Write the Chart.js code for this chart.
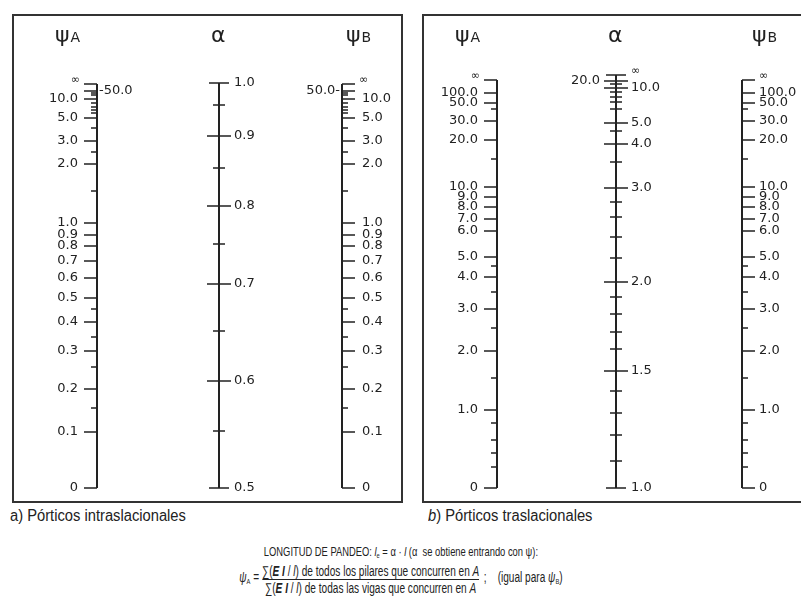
<!DOCTYPE html>
<html lang="es">
<head>
<meta charset="UTF-8">
<title>Longitud de pandeo - nomogramas</title>
<script src="https://cdn.jsdelivr.net/npm/chart.js"></script>
<style>
  body { margin: 0; width: 801px; height: 606px; overflow: hidden; position: relative; background: #fff;
         font-family: "Liberation Sans Narrow", "Liberation Sans", Arial, sans-serif; color: #222; }
  .panel { position: absolute; top: 14px; height: 485px; border: 2px solid #333; }
  #panelIntra { left: 12px; width: 387px; }
  #panelTras { left: 422px; width: 390px; }
  .panel canvas { display: block; }
  .caption { position: absolute; top: 507px; font-size: 16px; white-space: nowrap; transform: scaleX(0.92); transform-origin: left center; }
  #formula { position: absolute; top: 544px; left: 0; width: 801px; text-align: center; font-size: 13px; line-height: 15px;
             transform: scaleX(0.72); transform-origin: 402px 0; }
  .linea2 { display: inline-flex; align-items: center; margin-top: 1px; font-size: 14px; }
  .frac { display: inline-flex; flex-direction: column; align-items: center; margin: 0 6px 0 4px; font-size: 14px; line-height: 14px; }
  .frac .num { border-bottom: 1px solid #222; padding-bottom: 1px; }
  .frac .den { padding-top: 1px; }
  sub { font-size: 8px; vertical-align: -2px; }
</style>
</head>
<body>
    <!-- Nomogramas -->
    <div class="panel" id="panelIntra"><canvas id="nomoIntra" width="387" height="485"></canvas></div>
    <div class="panel" id="panelTras"><canvas id="nomoTras" width="390" height="485"></canvas></div>

    <div class="caption" style="left:10px">a) Pórticos intraslacionales</div>
    <div class="caption" style="left:428px"><i>b</i>) Pórticos traslacionales</div>

    <div id="formula">
        <div>LONGITUD DE PANDEO: <i>l</i><sub>e</sub> = α · <i>l</i> (α&nbsp; se obtiene entrando con ψ):</div>
        <div class="linea2">
            <span><i>ψ</i><sub>A</sub> =</span>
            <span class="frac">
                <span class="num">∑(<b><i>E I</i></b> / <i>l</i>) de todos los pilares que concurren en <i>A</i></span>
                <span class="den">∑(<b><i>E I</i></b> / <i>l</i>) de todas las vigas que concurren en <i>A</i></span>
            </span>
            <span>;&nbsp;&nbsp;&nbsp; (igual para <i>ψ</i><sub>B</sub>)</span>
        </div>
    </div>

    <script>
// a) Pórticos intraslacionales: valores de cada escala y su altura en el nomograma (unidades de la escala)
const psiIntra = [0, 0.1, 0.15, 0.2, 0.25, 0.3, 0.35, 0.4, 0.45, 0.5, 0.6, 0.7, 0.8, 0.9, 1.0, 1.5, 2.0, 2.5, 3.0, 4.0, 5.0, 6.0, 7.0, 8.0, 9.0, 10.0, 20.0, 30.0, 50.0, Infinity];
const psiIntraAltura = [0, 56, 80, 99, 121, 137, 151, 166, 179, 190, 210, 227, 242, 253, 265, 297, 324, 336, 347, 360, 370, 375, 378, 381, 385, 389, 393, 395, 397, 404];
const psiIntraRotulos = [0, 0.1, 0.2, 0.3, 0.4, 0.5, 0.6, 0.7, 0.8, 0.9, 1.0, 2.0, 3.0, 5.0, 10.0, 50.0, Infinity];

const alfaIntra = [0.5, 0.55, 0.6, 0.65, 0.7, 0.75, 0.8, 0.85, 0.9, 0.95, 1.0];
const alfaIntraAltura = [0, 57, 107, 157, 204, 244, 282, 320, 352, 383, 405];
const alfaIntraRotulos = [0.5, 0.6, 0.7, 0.8, 0.9, 1.0];

// b) Pórticos traslacionales
const psiTras = [0, 0.2, 0.4, 0.6, 0.8, 1.0, 1.5, 2.0, 2.5, 3.0, 3.5, 4.0, 4.5, 5.0, 6.0, 7.0, 8.0, 9.0, 10.0, 15.0, 20.0, 30.0, 40.0, 50.0, 100.0, Infinity];
const psiTrasAltura = [0, 21, 35, 48, 65, 78, 110, 137, 160, 179, 196, 211, 222, 231, 257, 269, 281, 291, 301, 329, 348, 367, 379, 385, 395, 408];
const psiTrasRotulos = [0, 1.0, 2.0, 3.0, 4.0, 5.0, 6.0, 7.0, 8.0, 9.0, 10.0, 20.0, 30.0, 50.0, 100.0, Infinity];

const alfaTras = [1.0, 1.1, 1.2, 1.3, 1.4, 1.5, 1.6, 1.7, 1.8, 1.9, 2.0, 2.2, 2.4, 2.6, 2.8, 3.0, 3.5, 4.0, 4.5, 5.0, 6.0, 7.0, 8.0, 9.0, 10.0, 15.0, 20.0, Infinity];
const alfaTrasAltura = [0, 27, 53, 75, 97, 117, 139, 156, 174, 191, 206, 230, 251, 271, 286, 300, 326, 344, 357, 365, 379, 386, 391, 396, 400, 404, 407, 413];
const alfaTrasRotulos = [1.0, 1.5, 2.0, 3.0, 4.0, 5.0, 10.0, 20.0, Infinity];

const COR = '#222';
const FONTE = '"DejaVu Sans", "Open Sans", sans-serif';

function formatar(v) {
    if (v === Infinity) return '∞';
    if (v === 0) return '0';
    return v.toFixed(1);
}

// segmentos de las marcas de una escala (null corta la línea)
function marcas(eixo) {
    const pts = [];
    eixo.valores.forEach((v, i) => {
        const extremo = i === 0 || i === eixo.valores.length - 1;
        let len = 6;
        if (eixo.rotulos.includes(v)) len = eixo.lado === 0 ? (extremo ? 10 : 12) : 13;
        const h = eixo.alturas[i];
        const x0 = eixo.lado === 0 ? eixo.col - len : eixo.col;
        const x1 = eixo.lado === 0 ? eixo.col + len : eixo.col + eixo.lado * len;
        pts.push({ x: x0, y: h }, { x: x1, y: h }, { x: x1, y: null });
    });
    return pts;
}

function criarRotulos(eixos) {
    return {
        id: 'rotulos',
        afterDatasetsDraw(chart) {
            const { ctx, scales: { x, y } } = chart;
            ctx.save();
            ctx.fillStyle = COR;
            eixos.forEach(eixo => {
                ctx.textBaseline = 'middle';
                const cx = x.getPixelForValue(eixo.col);
                eixo.valores.forEach((v, i) => {
                    if (!eixo.rotulos.includes(v)) return;
                    let py = y.getPixelForValue(eixo.alturas[i]);
                    let lado = eixo.lado === 0 ? 1 : eixo.lado;
                    let txt = formatar(v);
                    let px;
                    const inv = eixo.invertir && eixo.invertir.includes(v);
                    if (v === Infinity) {
                        ctx.font = '11px ' + FONTE;
                        py -= 4;
                    } else {
                        ctx.font = '13px ' + FONTE;
                    }
                    if (inv) {
                        lado = -lado;
                        if (eixo.lado !== 0) {
                            // rótulo al otro lado, unido con guion
                            txt = lado > 0 ? '-' + txt : txt + '-';
                            px = cx + lado * 2;
                        } else {
                            px = cx + lado * 16;
                        }
                    } else {
                        px = cx + lado * (eixo.lado === 0 ? 15 : (lado > 0 ? eixo.sep || 19 : 19));
                    }
                    if (v === Infinity && eixo.lado !== 0) px = cx + lado * 17;
                    ctx.textAlign = lado > 0 ? 'left' : 'right';
                    ctx.fillText(txt, px, py);
                });
                // título de la escala
                ctx.textAlign = 'left';
                ctx.textBaseline = 'alphabetic';
                const tx = x.getPixelForValue(eixo.col + eixo.dxTitulo);
                ctx.font = '22px ' + FONTE;
                ctx.fillText(eixo.titulo, tx, 26);
                if (eixo.sub) {
                    const w = ctx.measureText(eixo.titulo).width;
                    ctx.font = '14px ' + FONTE;
                    ctx.fillText(eixo.sub, tx + w + 1, 26);
                }
            });
            ctx.restore();
        }
    };
}

function criarNomograma(id, largura, eixos) {
    const datasets = [];
    eixos.forEach(eixo => {
        const n = eixo.alturas.length;
        datasets.push({
            data: [{ x: eixo.col, y: eixo.alturas[0] }, { x: eixo.col, y: eixo.alturas[n - 1] }],
            borderWidth: 2
        });
        datasets.push({ data: marcas(eixo), borderWidth: 1.6 });
    });
    datasets.forEach(d => Object.assign(d, {
        showLine: true, borderColor: COR, pointRadius: 0, spanGaps: false, clip: false, tension: 0
    }));

    new Chart(document.getElementById(id), {
        type: 'scatter',
        data: { datasets },
        options: {
            responsive: false,
            animation: false,
            layout: { padding: 0 },
            plugins: { legend: { display: false }, tooltip: { enabled: false } },
            scales: {
                x: { type: 'linear', min: 0, max: largura, display: false },
                y: { type: 'linear', min: -13, max: 472, display: false }
            }
        },
        plugins: [criarRotulos(eixos)]
    });
}

criarNomograma('nomoIntra', 387, [
    { col: 83, valores: psiIntra, alturas: psiIntraAltura, rotulos: psiIntraRotulos, lado: -1, invertir: [50], titulo: 'ψ', sub: 'A', dxTitulo: -42 },
    { col: 205, valores: alfaIntra, alturas: alfaIntraAltura, rotulos: alfaIntraRotulos, lado: 0, titulo: 'α', dxTitulo: -8 },
    { col: 328, valores: psiIntra, alturas: psiIntraAltura, rotulos: psiIntraRotulos, lado: 1, invertir: [50], sep: 20, titulo: 'ψ', sub: 'B', dxTitulo: 4 }
]);

criarNomograma('nomoTras', 390, [
    { col: 73, valores: psiTras, alturas: psiTrasAltura, rotulos: psiTrasRotulos, lado: -1, titulo: 'ψ', sub: 'A', dxTitulo: -42 },
    { col: 192, valores: alfaTras, alturas: alfaTrasAltura, rotulos: alfaTrasRotulos, lado: 0, invertir: [20], titulo: 'α', dxTitulo: -8 },
    { col: 318, valores: psiTras, alturas: psiTrasAltura, rotulos: psiTrasRotulos, lado: 1, sep: 17, titulo: 'ψ', sub: 'B', dxTitulo: 10 }
]);
    </script>
</body>
</html>
